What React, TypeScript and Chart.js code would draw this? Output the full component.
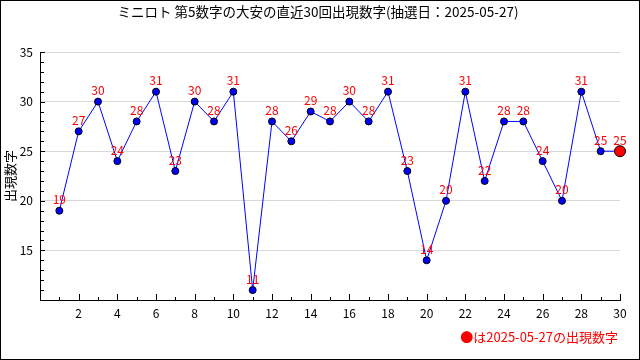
import React, { useEffect, useRef } from "react";
import { Chart, registerables } from "chart.js";

Chart.register(...registerables);

const titleText = "ミニロト 第5数字の大安の直近30回出現数字(抽選日：2025-05-27)";
const yAxisTitle = "出現数字";
const legendText = "●は2025-05-27の出現数字";
const drawIndex: number[] = Array.from({ length: 30 }, (_, i) => i + 1);
const numbers: number[] = [19, 27, 30, 24, 28, 31, 23, 30, 28, 31, 11, 28, 26, 29, 28, 30, 28, 31, 23, 14, 20, 31, 22, 28, 28, 24, 20, 31, 25, 25];
const yMin = 10;
const yMax = 35;
const xMin = 0;
const xMax = 30;

const FONT = "'Noto Sans CJK JP', 'DejaVu Sans', sans-serif";

const decorPlugin = {
  id: "decor",
  afterDraw(chart: any) {
    const ctx = chart.ctx as CanvasRenderingContext2D;
    const xs = chart.scales.x;
    const ys = chart.scales.y;
    const area = chart.chartArea;
    ctx.save();
    ctx.strokeStyle = "#000";
    ctx.lineWidth = 1;
    ctx.beginPath();
    for (let v = xMin + 1; v <= xMax; v++) {
      const px = Math.round(xs.getPixelForValue(v)) + 0.5;
      const len = v % 2 === 0 ? 6 : 3;
      ctx.moveTo(px, area.bottom);
      ctx.lineTo(px, area.bottom - len);
    }
    for (let v = yMin + 1; v <= yMax; v++) {
      const py = Math.round(ys.getPixelForValue(v)) + 0.5;
      const len = v % 5 === 0 ? 5 : 4;
      ctx.moveTo(area.left, py);
      ctx.lineTo(area.left + len, py);
    }
    ctx.stroke();

    const meta = chart.getDatasetMeta(0);
    ctx.fillStyle = "#ff0000";
    ctx.font = `12px ${FONT}`;
    ctx.textAlign = "center";
    ctx.textBaseline = "middle";
    meta.data.forEach((pt: any, i: number) => {
      ctx.fillText(String(numbers[i]), pt.x, pt.y - 11);
    });

    ctx.fillStyle = "#000";
    ctx.font = `13.5px ${FONT}`;
    ctx.textAlign = "center";
    ctx.fillText(titleText, 318, 12);

    ctx.save();
    ctx.font = `13px ${FONT}`;
    ctx.translate(10, 176);
    ctx.rotate(-Math.PI / 2);
    ctx.fillText(yAxisTitle, 0, 0);
    ctx.restore();

    ctx.fillStyle = "#ff0000";
    ctx.font = `13px ${FONT}`;
    ctx.textAlign = "right";
    ctx.fillText(legendText, 618, 337);

    ctx.strokeStyle = "#000";
    ctx.strokeRect(0.5, 0.5, 639, 359);
    ctx.restore();
  },
};

export default function App() {
  const ref = useRef<HTMLCanvasElement | null>(null);
  useEffect(() => {
    document.body.style.margin = "0";
    if (!ref.current) return;
    const last = numbers.length - 1;
    const chart = new Chart(ref.current, {
      type: "line",
      data: {
        datasets: [
          {
            data: drawIndex.map((x, i) => ({ x, y: numbers[i] })),
            borderColor: "#0000ff",
            borderWidth: 1,
            pointBackgroundColor: numbers.map((_, i) => (i === last ? "#ff0000" : "#0000ff")),
            pointBorderColor: "#000",
            pointBorderWidth: 1,
            pointRadius: numbers.map((_, i) => (i === last ? 5.5 : 3.5)),
            tension: 0,
            clip: false,
          } as any,
        ],
      },
      options: {
        responsive: false,
        animation: false,
        events: [],
        layout: { padding: { left: 0, right: 20, top: 52, bottom: 0 } },
        plugins: { legend: { display: false }, tooltip: { enabled: false } },
        scales: {
          x: {
            type: "linear",
            min: xMin,
            max: xMax,
            afterFit: (s: any) => {
              s.height = 60;
            },
            ticks: {
              stepSize: 1,
              autoSkip: false,
              maxRotation: 0,
              padding: 6,
              color: "#000",
              font: { family: FONT, size: 12 },
              callback: (v: any) => (v > 0 && v % 2 === 0 ? String(v) : ""),
            },
            grid: { display: false, drawTicks: false },
            border: { display: true, color: "#000", width: 1 },
          },
          y: {
            min: yMin,
            max: yMax,
            afterFit: (s: any) => {
              s.width = 40;
            },
            ticks: {
              stepSize: 1,
              autoSkip: false,
              padding: 7,
              color: "#000",
              font: { family: FONT, size: 12 },
              callback: (v: any) => (v >= 15 && v % 5 === 0 ? String(v) : ""),
            },
            grid: {
              drawTicks: false,
              color: (c: any) => (c.tick && c.tick.value % 5 === 0 && c.tick.value > yMin ? "#d8d8d8" : "rgba(0,0,0,0)"),
            },
            border: { display: true, color: "#000", width: 1 },
          },
        },
      },
      plugins: [decorPlugin],
    });
    return () => chart.destroy();
  }, []);
  return <canvas ref={ref} width={640} height={360} style={{ width: 640, height: 360, display: "block" }} />;
}
